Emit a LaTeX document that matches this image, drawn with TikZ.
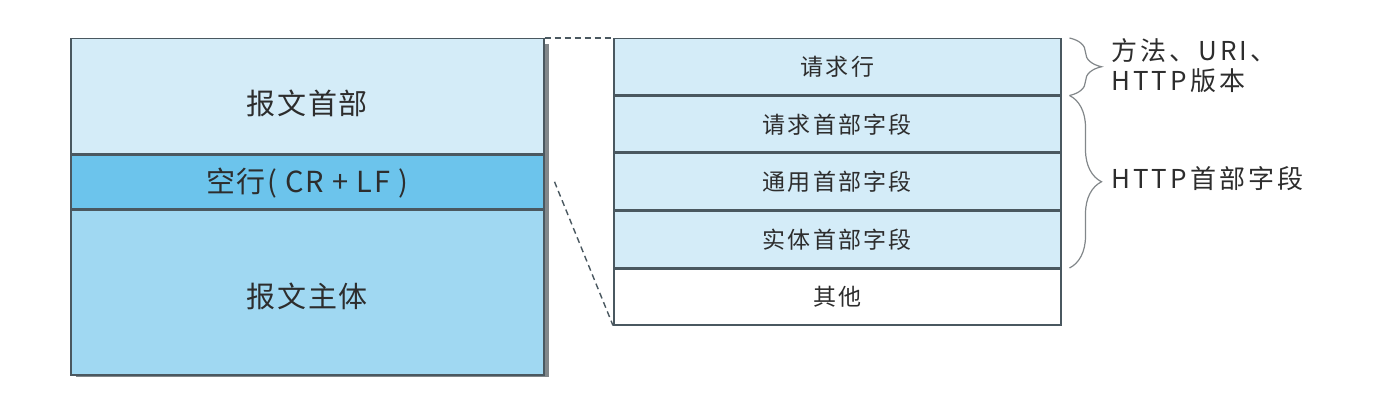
\documentclass[tikz,border=0pt]{standalone}
\usepackage{fontspec}
\setmainfont{Noto Sans CJK SC}
\usepackage{tikz}
\usetikzlibrary{positioning,decorations.pathreplacing}
\definecolor{hdrblue}{RGB}{212,236,248}
\definecolor{crlfblue}{RGB}{108,196,236}
\definecolor{bodyblue}{RGB}{160,216,242}
\definecolor{edgegray}{RGB}{74,88,96}
\definecolor{textgray}{RGB}{45,45,45}
\definecolor{shadowgray}{RGB}{130,135,138}
\begin{document}
\begin{tikzpicture}[x=1pt,y=-1pt,
  band/.style={draw=edgegray, line width=1.5pt, minimum width=473pt, inner sep=0pt, anchor=north west},
  bandtext/.style={text=textgray, font=\fontsize{29}{29}\selectfont\addfontfeature{LetterSpace=6}},
  row/.style={draw=edgegray, line width=1.5pt, minimum width=447pt, minimum height=56pt,
    inner sep=0pt, anchor=north west, text=textgray, font=\fontsize{23}{23}\selectfont\addfontfeature{LetterSpace=10}},
  zoomline/.style={dashed, line width=1.4pt, dash pattern=on 6pt off 4pt, edgegray},
  sidebrace/.style={decorate, decoration={brace, amplitude=32pt}, line width=1.2pt, shadowgray},
  sidetext/.style={anchor=west, text=textgray, align=left,
    font=\fontsize{26}{30}\selectfont\addfontfeature{LetterSpace=12}}]
\useasboundingbox (0,0) rectangle (1388,406);
% Message with its shadow
\fill[shadowgray] (76,44) rectangle (549,377);
\node[band, fill=hdrblue, minimum height=115pt] (hdr) at (70,38) {};
\node[band, fill=crlfblue, minimum height=53pt] (crlf) at (hdr.south west) {};
\node[band, fill=bodyblue, minimum height=165pt] (body) at (crlf.south west) {};
\node[bandtext] (hdrlbl) at ([yshift=-7pt]hdr.center) {报文首部};
\node[bandtext] (crlflbl) at ([yshift=-1pt]crlf.center) {空行( CR + LF )};
\node[bandtext] (bodylbl) at ([yshift=-4pt]body.center) {报文主体};
% Header fields in detail
\node[row, fill=hdrblue] (reqline) at (613,38) {请求行};
\node[row, fill=hdrblue] (reqhdr) at (reqline.south west) {请求首部字段};
\node[row, fill=hdrblue] (genhdr) at (reqhdr.south west) {通用首部字段};
\node[row, fill=hdrblue] (enthdr) at (genhdr.south west) {实体首部字段};
\node[row, fill=white] (other) at (enthdr.south west) {其他};
% Zoom lines
\coordinate (zoomfoot) at ([xshift=10pt]crlf.east);
\draw[zoomline] (hdr.north east) -- (reqline.north west);
\draw[zoomline] (zoomfoot) -- (other.south west);
% Braces and their notes
\draw[sidebrace] ([xshift=8pt]reqline.north east) -- ([xshift=8pt]reqline.south east) coordinate[midway, xshift=38pt] (tipa);
\draw[sidebrace] ([xshift=8pt]reqhdr.north east) -- ([xshift=8pt]enthdr.south east) coordinate[midway, xshift=38pt] (tipb);
\node[sidetext] (methods) at ([yshift=1pt]tipa) {方法、URI、\\HTTP版本};
\node[sidetext] (hdrfields) at ([yshift=3pt]tipb) {HTTP首部字段};
\end{tikzpicture}
\end{document}
